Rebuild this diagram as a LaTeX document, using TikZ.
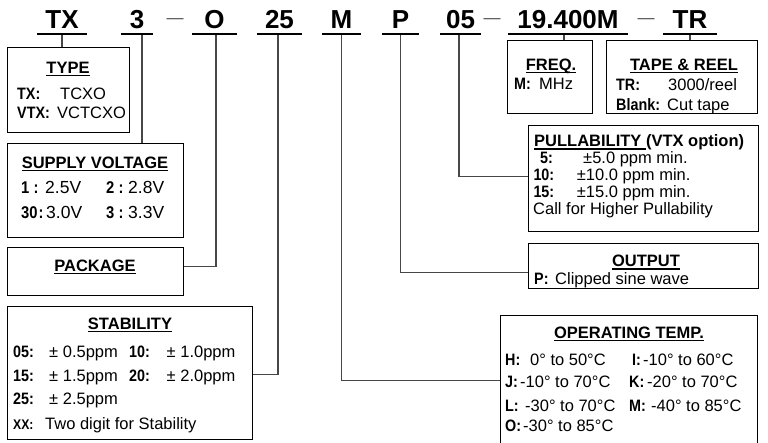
\documentclass[tikz,border=0pt]{standalone}
\usepackage{fontspec}
\usepackage{graphicx}
\setmainfont{Liberation Sans}
\newcommand\nb[1]{\scalebox{0.87}[1]{#1}}
\newsavebox\myulbox
\newcommand\myul[1]{\sbox\myulbox{#1}\rlap{\rule[-2.8pt]{\wd\myulbox}{1.2pt}}\usebox\myulbox}
\begin{document}
\begin{tikzpicture}[x=1pt,y=-1pt,
  box/.style={draw=black, line width=1.3pt, inner sep=0pt, anchor=north west},
  conn/.style={draw=black!72, line width=1.1pt},
  uln/.style={draw=black, line width=2.2pt},
  code/.style={font=\fontsize{26}{26}\selectfont\bfseries, inner sep=0pt, text height=18.6pt, text depth=5.5pt, anchor=south},
  dsh/.style={font=\fontsize{17}{17}\selectfont, text=black!70, inner sep=0pt, anchor=base},
  txt/.style={font=\fontsize{16.5}{16.5}\selectfont, inner sep=0pt, anchor=base west},
  txtb/.style={txt, font=\fontsize{16.5}{16.5}\selectfont\bfseries},
  svt/.style={txt, font=\fontsize{17.5}{17.5}\selectfont},
  svtb/.style={txt, font=\fontsize{17}{17}\selectfont\bfseries},
  ttl/.style={font=\fontsize{16.5}{16.5}\selectfont\bfseries, inner sep=0pt, anchor=base},
  ttlw/.style={ttl, anchor=base west}]
\useasboundingbox (0,0) rectangle (768,442);

% part-number codes
\node[code, minimum width=50pt] (tx) at (62,34) {TX};
\node[code, minimum width=32pt] (v3) at (137,34) {3};
\node[dsh] (d1) at (175,23.6) {—};
\node[code, minimum width=45pt] (o) at (214.5,34) {O};
\node[code, minimum width=45pt] (s25) at (279.5,34) {25};
\node[code, minimum width=39pt] (m) at (341.5,34) {M};
\node[code, minimum width=37pt] (p) at (400.5,34) {P};
\node[code, minimum width=41pt] (p05) at (460.5,34) {05};
\node[dsh] (d2) at (492,23.6) {—};
\node[code, minimum width=120pt] (fq) at (568,34) {19.400M};
\node[dsh] (d3) at (646,23.6) {—};
\node[code, minimum width=54pt] (tr) at (690,34) {TR};

% boxes
\node[box, minimum width=122pt, minimum height=85pt] (type) at (7,47) {};
\node[box, minimum width=176pt, minimum height=94pt] (supply) at (7,143) {};
\node[box, minimum width=176pt, minimum height=48pt] (package) at (7,247) {};
\node[box, minimum width=245pt, minimum height=133pt] (stability) at (7,306) {};
\node[box, minimum width=85pt, minimum height=73pt] (freq) at (507,40) {};
\node[box, minimum width=151pt, minimum height=73pt] (tape) at (606,40) {};
\node[box, minimum width=230pt, minimum height=106pt] (pull) at (528,125) {};
\node[box, minimum width=230pt, minimum height=45pt] (output) at (528,243) {};
\node[box, minimum width=257pt, minimum height=130pt] (optemp) at (500,315) {};

% connectors
\coordinate (c3) at ([xshift=5pt]v3.south);
\coordinate (cO) at ([xshift=1.5pt]o.south);
\coordinate (c25) at ([xshift=-1.5pt]s25.south);
\coordinate (c05) at ([xshift=-1.5pt]p05.south);
\coordinate (cfq) at ([xshift=-4pt]fq.south);
\draw[conn] (tx.south) -- (tx.south |- type.north);
\draw[conn] (c3) -- (c3 |- supply.north);
\draw[conn] (cO) |- ([yshift=5pt]package.east);
\draw[conn] (c25) |- ([yshift=-1pt]stability.east);
\draw[conn] (m.south) |- (optemp.west);
\draw[conn] (p.south) |- ([yshift=-6.5pt]output.west);
\draw[conn] (c05) |- ([yshift=2pt]pull.west);
\draw[conn] (cfq) -- (cfq |- freq.north);
\draw[conn] (tr.south) -- (tr.south |- tape.north);

% code underlines
\foreach \n in {tx,v3,o,s25,m,p,p05,fq,tr}
  \draw[uln] (\n.south west) -- (\n.south east);

% TYPE
\node[ttl] (typeT) at (68,73) {\myul{TYPE}};
\node[txtb] (ty1a) at (17,99) {\nb{TX:}};
\node[txt] (ty1b) at (60,99) {TCXO};
\node[txtb] (ty2a) at (17,118) {\nb{VTX:}};
\node[txt] (ty2b) at (57,118) {VCTCXO};

% SUPPLY VOLTAGE
\node[ttl] (supT) at (95,168) {\myul{SUPPLY VOLTAGE}};
\node[svtb] (su1a) at (21,193) {\nb{1 :}};
\node[svt] (su1b) at (45,193) {2.5V};
\node[svtb] (su1c) at (106,193) {\nb{2 :}};
\node[svt] (su1d) at (128,193) {2.8V};
\node[svtb] (su2a) at (21,218) {\nb{30\hspace{1pt}:}};
\node[svt] (su2b) at (46,218) {3.0V};
\node[svtb] (su2c) at (106,218) {\nb{3 :}};
\node[svt] (su2d) at (128,218) {3.3V};

% PACKAGE
\node[ttl] (pkgT) at (95,271) {\myul{PACKAGE}};

% STABILITY
\node[ttl] (stT) at (130,329) {\myul{STABILITY}};
\node[txtb] (st1a) at (13,357.7) {\nb{05:}};
\node[txt] (st1b) at (49,357.7) {± 0.5ppm};
\node[txtb] (st1c) at (129,357.7) {\nb{10:}};
\node[txt] (st1d) at (166.5,357.7) {± 1.0ppm};
\node[txtb] (st2a) at (13,381) {\nb{15:}};
\node[txt] (st2b) at (49,381) {± 1.5ppm};
\node[txtb] (st2c) at (129,381) {\nb{20:}};
\node[txt] (st2d) at (166.5,381) {± 2.0ppm};
\node[txtb] (st3a) at (13,404) {\nb{25:}};
\node[txt] (st3b) at (49,404) {± 2.5ppm};
\node[txtb, font=\fontsize{14}{14}\selectfont\bfseries] (st4a) at (13,429) {\nb{XX:}};
\node[txt] (st4b) at (45,429) {Two digit for Stability};

% FREQ
\node[ttl] (fqT) at (551,70) {\myul{FREQ.}};
\node[txtb] (fq1a) at (514,89) {\nb{M:}};
\node[txt] (fq1b) at (539,89) {MHz};

% TAPE & REEL
\node[ttl] (tpT) at (684,70) {\myul{TAPE \& REEL}};
\node[txtb] (tp1a) at (616,90) {\nb{TR:}};
\node[txt] (tp1b) at (668,90) {3000/reel};
\node[txtb] (tp2a) at (616,110) {\nb{Blank:}};
\node[txt] (tp2b) at (667,110) {Cut tape};

% PULLABILITY
\node[ttlw] (puT) at (534,146.7) {\myul{PULLABILITY\ }(VTX option)};
\node[txtb] (pu1a) at (540,163.5) {\nb{5:}};
\node[txt] (pu1b) at (583,163.5) {±5.0 ppm min.};
\node[txtb] (pu2a) at (533.3,180) {\nb{10:}};
\node[txt] (pu2b) at (576.7,180) {±10.0 ppm min.};
\node[txtb] (pu3a) at (533.3,197) {\nb{15:}};
\node[txt] (pu3b) at (576.7,197) {±15.0 ppm min.};
\node[txt] (pu4) at (533,214) {Call for Higher Pullability};

% OUTPUT
\node[ttl] (ouT) at (646,266.7) {\myul{OUTPUT}};
\node[txtb] (ou1a) at (534,284) {\nb{P:}};
\node[txt] (ou1b) at (555,284) {Clipped sine wave};

% OPERATING TEMP.
\node[ttl] (opT) at (629,338.5) {\myul{OPERATING TEMP.}};
\node[txtb] (op1a) at (505,365) {\nb{H:}};
\node[txt] (op1b) at (530,365) {0° to 50°C};
\node[txtb] (op1c) at (632,365) {\nb{I:}};
\node[txt] (op1d) at (643,365) {-10° to 60°C};
\node[txtb] (op2a) at (505,387.5) {\nb{J:}};
\node[txt] (op2b) at (520,387.5) {-10° to 70°C};
\node[txtb] (op2c) at (629,387.5) {\nb{K:}};
\node[txt] (op2d) at (647,387.5) {-20° to 70°C};
\node[txtb] (op3a) at (505,411) {\nb{L:}};
\node[txt] (op3b) at (525,411) {-30° to 70°C};
\node[txtb] (op3c) at (629,411) {\nb{M:}};
\node[txt] (op3d) at (651,411) {-40° to 85°C};
\node[txtb] (op4a) at (505,431) {\nb{O:}};
\node[txt] (op4b) at (523,431) {-30° to 85°C};
\end{tikzpicture}
\end{document}
